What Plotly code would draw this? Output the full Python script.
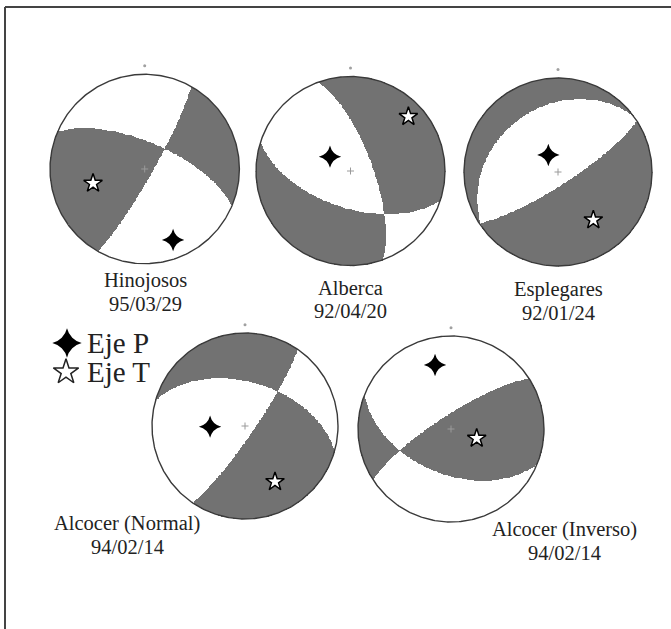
import numpy as np
import plotly.graph_objects as go

# ---------------- data ----------------
names = ["Hinojosos", "Alberca", "Esplegares", "Alcocer (Normal)", "Alcocer (Inverso)"]
dates = ["95/03/29", "92/04/20", "92/01/24", "94/02/14", "94/02/14"]
plane1_strike = [293, 340, 234, 286, 237]
plane1_dip = [67, 71, 31, 51, 78]
plane2_strike = [29.5, 108, 57, 34.4, 112]
plane2_dip = [83, 58, 79, 82, 50]
p_azimuth = [158.2, 305, 330.4, 268.9, 346]
p_plunge = [20.4, 68.4, 73.1, 59.2, 29.8]
t_azimuth = [254.5, 46.8, 143.6, 151.7, 110]
t_plunge = [42.8, 17.1, 36.8, 32.5, 66]
legend_labels = ["Eje P", "Eje T"]

# ---------------- layout constants ----------------
W, H = 671, 629
centers = [(144.7, 169), (350.5, 171), (558, 172), (245, 426), (451, 429)]
radii = [94.7, 94.5, 94, 93, 93]
label_xy = [(145, 280.5, 303.5), (351, 287.5, 310.5), (558, 289.5, 312.5),
            (127, 523.5, 546.5), (564, 529.5, 552.5)]
L = 1.12
SHADE = "#727272"
FONT = "Liberation Serif"
N = 241


def normal(strike, dip):
    s, d = np.radians(strike), np.radians(dip)
    return np.array([-np.sin(d) * np.sin(s), np.sin(d) * np.cos(s), -np.cos(d)])


def axis_vec(az, pl):
    a, p = np.radians(az), np.radians(pl)
    return np.array([np.cos(p) * np.cos(a), np.cos(p) * np.sin(a), np.sin(p)])


def proj(az, pl):
    a = np.radians(az)
    r = np.sqrt(2) * np.sin(np.radians(90 - pl) / 2)
    return r * np.sin(a), r * np.cos(a)


fig = go.Figure()
g = np.linspace(-1, 1, N)
X, Y = np.meshgrid(g, g)
RR = np.hypot(X, Y)
TH = 2 * np.arcsin(np.clip(RR / np.sqrt(2), 0, 1))
with np.errstate(invalid="ignore", divide="ignore"):
    VN = np.where(RR > 0, np.sin(TH) * Y / RR, 0)
    VE = np.where(RR > 0, np.sin(TH) * X / RR, 0)
VD = np.cos(TH)

tt = np.linspace(0, 2 * np.pi, 361)

for i in range(5):
    n1 = normal(plane1_strike[i], plane1_dip[i])
    n2 = normal(plane2_strike[i], plane2_dip[i])
    s1 = n1[0] * VN + n1[1] * VE + n1[2] * VD
    s2 = n2[0] * VN + n2[1] * VE + n2[2] * VD
    tv = axis_vec(t_azimuth[i], t_plunge[i])
    qt = np.sign(np.dot(n1, tv) * np.dot(n2, tv))
    z = (np.sign(s1 * s2) == qt).astype(float)
    z = np.where(RR <= 1.0, z, np.nan)
    ax = "" if i == 0 else str(i + 1)
    xa, ya = "x" + ax, "y" + ax
    fig.add_trace(go.Heatmap(x=g, y=g, z=z, zmin=0, zmax=1,
                             colorscale=[[0, "white"], [1, SHADE]], showscale=False,
                             hoverinfo="skip", xaxis=xa, yaxis=ya))
    fig.add_trace(go.Scatter(x=np.cos(tt), y=np.sin(tt), mode="lines",
                             line=dict(color="#3a3a3a", width=1.4), hoverinfo="skip",
                             xaxis=xa, yaxis=ya, showlegend=False))
    # north mark and centre mark
    fig.add_trace(go.Scatter(x=[0], y=[1.09], mode="markers",
                             marker=dict(symbol="circle", size=3, color="#a0a0a0"),
                             xaxis=xa, yaxis=ya, showlegend=False, hoverinfo="skip"))
    fig.add_trace(go.Scatter(x=[0], y=[0], mode="markers",
                             marker=dict(symbol="cross-thin", size=5,
                                         line=dict(color="#9a9a9a", width=1)),
                             xaxis=xa, yaxis=ya, showlegend=False, hoverinfo="skip"))
    px, py = proj(p_azimuth[i], p_plunge[i])
    tx, ty = proj(t_azimuth[i], t_plunge[i])
    fig.add_trace(go.Scatter(x=[px], y=[py], mode="markers",
                             marker=dict(symbol="star-diamond", size=16, color="black"),
                             xaxis=xa, yaxis=ya, showlegend=False, hoverinfo="skip"))
    fig.add_trace(go.Scatter(x=[tx], y=[ty], mode="markers",
                             marker=dict(symbol="star", size=14, color="white",
                                         line=dict(color="black", width=1.5)),
                             xaxis=xa, yaxis=ya, showlegend=False, hoverinfo="skip"))

    cx, cy = centers[i]
    r = radii[i]
    axis_common = dict(visible=False, range=[-L, L], fixedrange=True)
    fig.update_layout(**{
        "xaxis" + ax: dict(domain=[(cx - L * r) / W, (cx + L * r) / W], anchor=ya, **axis_common),
        "yaxis" + ax: dict(domain=[(H - cy - L * r) / H, (H - cy + L * r) / H], anchor=xa, **axis_common),
    })
    lx, ly1, ly2 = label_xy[i]
    for txt, yy in ((names[i], ly1), (dates[i], ly2)):
        fig.add_annotation(x=lx / W, y=1 - yy / H, xref="paper", yref="paper", text=txt,
                           showarrow=False, xanchor="center", yanchor="middle",
                           font=dict(family=FONT, size=20.5, color="#222"))

# legend overlay axis (pixel coordinates)
fig.update_layout(
    xaxis6=dict(domain=[0, 1], range=[0, W], visible=False, fixedrange=True, anchor="y6"),
    yaxis6=dict(domain=[0, 1], range=[H, 0], visible=False, fixedrange=True, anchor="x6"),
)
leg_y = [343, 372]
fig.add_trace(go.Scatter(x=[67], y=[leg_y[0]], mode="markers",
                         marker=dict(symbol="star-diamond", size=21, color="black"),
                         xaxis="x6", yaxis="y6", showlegend=False, hoverinfo="skip"))
fig.add_trace(go.Scatter(x=[66], y=[leg_y[1]], mode="markers",
                         marker=dict(symbol="star", size=19, color="white",
                                     line=dict(color="#222", width=1.5)),
                         xaxis="x6", yaxis="y6", showlegend=False, hoverinfo="skip"))
for lab, yy in zip(legend_labels, leg_y):
    fig.add_annotation(x=85 / W, y=1 - yy / H, xref="paper", yref="paper", text=lab,
                       showarrow=False, xanchor="left", yanchor="middle",
                       font=dict(family=FONT, size=29, color="#222"))

# frame (top and left edges)
fig.add_shape(type="line", xref="paper", yref="paper", x0=5 / W, x1=1, y0=1 - 7 / H, y1=1 - 7 / H,
              line=dict(color="#444", width=2))
fig.add_shape(type="line", xref="paper", yref="paper", x0=5 / W, x1=5 / W, y0=1 - 7 / H, y1=0,
              line=dict(color="#444", width=2))

fig.update_layout(width=W, height=H, margin=dict(l=0, r=0, t=0, b=0),
                  paper_bgcolor="white", plot_bgcolor="rgba(0,0,0,0)", showlegend=False)
fig.write_html("out.html", config={"displayModeBar": False},
               post_script="document.body.style.margin='0';document.body.style.overflow='hidden';")
